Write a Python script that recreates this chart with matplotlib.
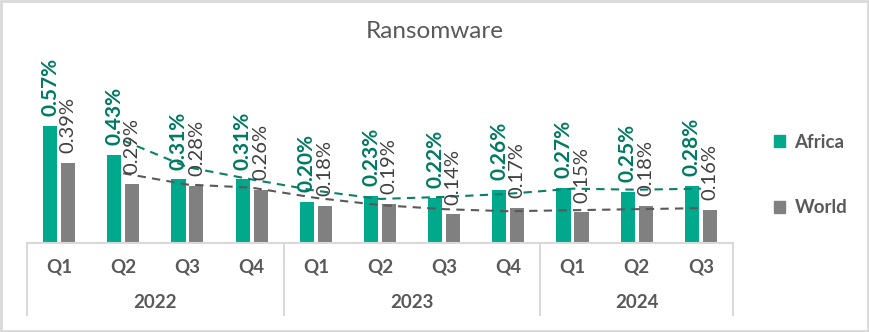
import matplotlib
matplotlib.use("Agg")
import matplotlib.pyplot as plt
import matplotlib.transforms as mtransforms
from matplotlib.patches import Patch, Rectangle
import numpy as np
import pandas as pd

plt.rcParams['font.family'] = ['Lato', 'DejaVu Sans']

quarters = ["Q1", "Q2", "Q3", "Q4", "Q1", "Q2", "Q3", "Q4", "Q1", "Q2", "Q3"]
years = ["2022", "2023", "2024"]
year_sizes = [4, 4, 3]
africa = [0.57, 0.43, 0.31, 0.31, 0.20, 0.23, 0.22, 0.26, 0.27, 0.25, 0.28]
world = [0.39, 0.29, 0.28, 0.26, 0.18, 0.19, 0.14, 0.17, 0.15, 0.18, 0.16]

AFRICA = "#00A88C"
AFRICA_TXT = "#007A63"
WORLD = "#808080"
WORLD_TXT = "#404040"
AXIS_TXT = "#595959"
GRID = "#D9D9D9"

fig = plt.figure(figsize=(8.7, 3.32), dpi=100)
ax = fig.add_axes([27 / 870, 1 - 243 / 332, 706 / 870, 184.5 / 332])

x = np.arange(len(quarters))
w = 0.22
gap = 0.03
ax.bar(x - w / 2 - gap, africa, width=w, color=AFRICA)
ax.bar(x + w / 2 + gap, world, width=w, color=WORLD)

# value labels, rotated like the excel ones
for i in range(len(x)):
    ax.annotate(f"{africa[i]:.2f}%", (x[i] - w / 2 - gap, africa[i]),
                xytext=(0, 7), textcoords="offset points", rotation=90,
                ha="center", va="bottom", fontsize=15, fontweight="bold",
                color=AFRICA_TXT)
    ax.annotate(f"{world[i]:.2f}%", (x[i] + w / 2 + gap, world[i]),
                xytext=(0, 7), textcoords="offset points", rotation=90,
                ha="center", va="bottom", fontsize=14.5, color=WORLD_TXT)

# 2-period moving average trendlines
ma_af = pd.Series(africa).rolling(2).mean()
ma_wo = pd.Series(world).rolling(2).mean()
ax.plot(x[1:], ma_af[1:], ls=(0, (4, 3)), lw=1.5, color="#0A7F6A")
ax.plot(x[1:], ma_wo[1:], ls=(0, (4, 3)), lw=1.5, color="#595959")

ax.set_xlim(-0.5, len(x) - 0.5)
ax.set_ylim(0, 0.9)
ax.set_yticks([])
ax.set_xticks([])
for s in ["top", "right", "left"]:
    ax.spines[s].set_visible(False)
ax.spines["bottom"].set_color(GRID)
ax.spines["bottom"].set_linewidth(1.5)

# two-level category axis
trans = mtransforms.blended_transform_factory(ax.transData, ax.transAxes)
for i, q in enumerate(quarters):
    ax.text(i, -0.13, q, transform=trans, ha="center", va="center",
            fontsize=13.5, fontweight="bold", color=AXIS_TXT)
start = 0
bounds = [-0.5]
for yr, n in zip(years, year_sizes):
    ax.text(start + (n - 1) / 2, -0.32, yr, transform=trans, ha="center",
            va="center", fontsize=13.5, fontweight="bold", color=AXIS_TXT)
    start += n
    bounds.append(start - 0.5)
for b in bounds:
    ax.plot([b, b], [0, -0.39], transform=trans, color=GRID, lw=1.5,
            clip_on=False)

fig.text(0.5, 1 - 32 / 332, "Ransomware", ha="center", va="center",
         fontsize=17.5, color=AXIS_TXT)

handles = [Patch(color=AFRICA, label="Africa"), Patch(color=WORLD, label="World")]
fig.legend(handles=handles, loc="center left", bbox_to_anchor=(757 / 870, 1 - 175 / 332),
           frameon=False, handlelength=0.6, handleheight=0.6, handletextpad=0.5,
           labelspacing=2.6, prop={"size": 13.5, "weight": "bold"},
           labelcolor=AXIS_TXT)

fig.add_artist(Rectangle((0.001, 0.002), 0.997, 0.995, transform=fig.transFigure,
                         fill=False, edgecolor=GRID, lw=2))

fig.savefig("out.png", dpi=100)
